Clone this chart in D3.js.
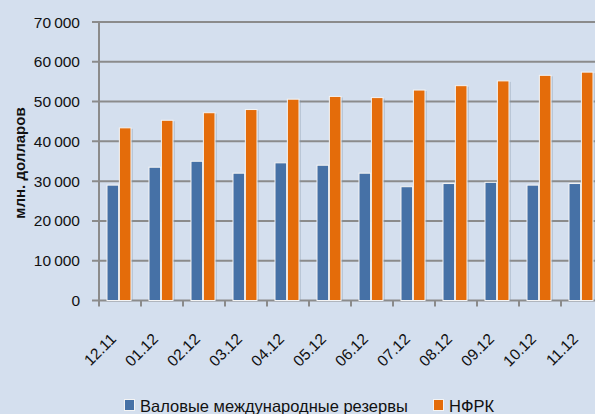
<!DOCTYPE html>
<html>
<head>
<meta charset="utf-8">
<script src="https://cdn.jsdelivr.net/npm/d3@7"></script>
<style>
body { margin: 0; background: #d4dfee; }
svg { display: block; font-family: "Liberation Sans", Arial, sans-serif; }
</style>
</head>
<body>
<div id="chart"></div>
<script>
const months = ["12.11", "01.12", "02.12", "03.12", "04.12", "05.12", "06.12", "07.12", "08.12", "09.12", "10.12", "11.12"]
const reserves = [29000, 33500, 35000, 32000, 34600, 34000, 32000, 28600, 29400, 29700, 29000, 29400]
const nfrk = [43400, 45300, 47200, 48000, 50600, 51300, 51000, 52900, 54000, 55200, 56600, 57400]
const yTicks = [0, 10000, 20000, 30000, 40000, 50000, 60000, 70000]
const seriesNames = ["Валовые международные резервы", "НФРК"]
const colors = ["#4671a6", "#e46c0a"]

const width = 595
const height = 414
const margin = {top: 22, right: -8, bottom: 113.5, left: 99}

const svg = d3.select("#chart")
    .append("svg")
    .attr("width", width)
    .attr("height", height)

svg.append("rect")
    .attr("width", width)
    .attr("height", height)
    .attr("fill", "#d4dfee")

const x = d3.scaleBand()
    .domain(months)
    .range([margin.left, width - margin.right])

const x1 = d3.scaleBand()
    .domain([0, 1])
    .range([8, 32])
    .paddingInner(0.06)

const y = d3.scaleLinear()
    .domain([0, 70000])
    .range([height - margin.bottom, margin.top])

const fmt = v => d3.format(",")(v).replace(",", "\u2009")

// grid
const grid = svg.append("g")
grid.selectAll("line")
    .data(yTicks)
    .join("line")
    .attr("x1", margin.left - 7)
    .attr("x2", width - margin.right)
    .attr("y1", d => y(d))
    .attr("y2", d => y(d))
    .attr("stroke", "#8b8b8b")
    .attr("stroke-width", 2)

// y axis line + x ticks
svg.append("line")
    .attr("x1", margin.left).attr("x2", margin.left)
    .attr("y1", y(70000) - 1).attr("y2", y(0) + 6)
    .attr("stroke", "#8b8b8b").attr("stroke-width", 2)

svg.append("g")
    .selectAll("line")
    .data(months.slice(1))
    .join("line")
    .attr("x1", d => x(d)).attr("x2", d => x(d))
    .attr("y1", y(0)).attr("y2", y(0) + 6)
    .attr("stroke", "#8b8b8b").attr("stroke-width", 2)

svg.append("g")
    .attr("font-size", 15.5)
    .attr("fill", "#111")
    .selectAll("text")
    .data(yTicks)
    .join("text")
    .attr("x", 80)
    .attr("y", d => y(d) + 5.5)
    .attr("text-anchor", "end")
    .text(d => fmt(d))

svg.append("text")
    .attr("transform", "translate(25,163) rotate(-90)")
    .attr("text-anchor", "middle")
    .attr("font-weight", "bold")
    .attr("font-size", 15)
    .attr("fill", "#111")
    .text("млн. долларов")

// bars
const series = [reserves, nfrk]
series.forEach((vals, si) => {
    const g = svg.append("g")
    g.selectAll("rect.shadow")
        .data(vals)
        .join("rect")
        .attr("class", "shadow")
        .attr("x", (d, i) => x(months[i]) + x1(si) + 2)
        .attr("y", d => y(d) + 1)
        .attr("width", x1.bandwidth())
        .attr("height", d => y(0) - y(d) - 1)
        .attr("fill", "#8899aa")
        .attr("opacity", 0.35)
    g.selectAll("rect.bar")
        .data(vals)
        .join("rect")
        .attr("class", "bar")
        .attr("x", (d, i) => x(months[i]) + x1(si))
        .attr("y", d => y(d))
        .attr("width", x1.bandwidth())
        .attr("height", d => y(0) - y(d))
        .attr("fill", colors[si])
        .attr("stroke", "#f4f4f4")
        .attr("stroke-width", 1)
})

// x labels
svg.append("g")
    .attr("font-size", 15.5)
    .attr("fill", "#111")
    .selectAll("text")
    .data(months)
    .join("text")
    .attr("transform", d => `translate(${x(d) + x.bandwidth() / 2 - 3},340) rotate(-45)`)
    .attr("text-anchor", "end")
    .text(d => d)

// legend
const legend = svg.append("g").attr("font-size", 16.5).attr("fill", "#111")
const legendX = [124, 433]
seriesNames.forEach((name, i) => {
    legend.append("rect")
        .attr("x", legendX[i] + 0.5).attr("y", 399.5)
        .attr("width", 10).attr("height", 11)
        .attr("fill", colors[i])
        .attr("stroke", "#f4f4f4")
    legend.append("text")
        .attr("x", legendX[i] + 16)
        .attr("y", 411.5)
        .text(name)
})
</script>
</body>
</html>
